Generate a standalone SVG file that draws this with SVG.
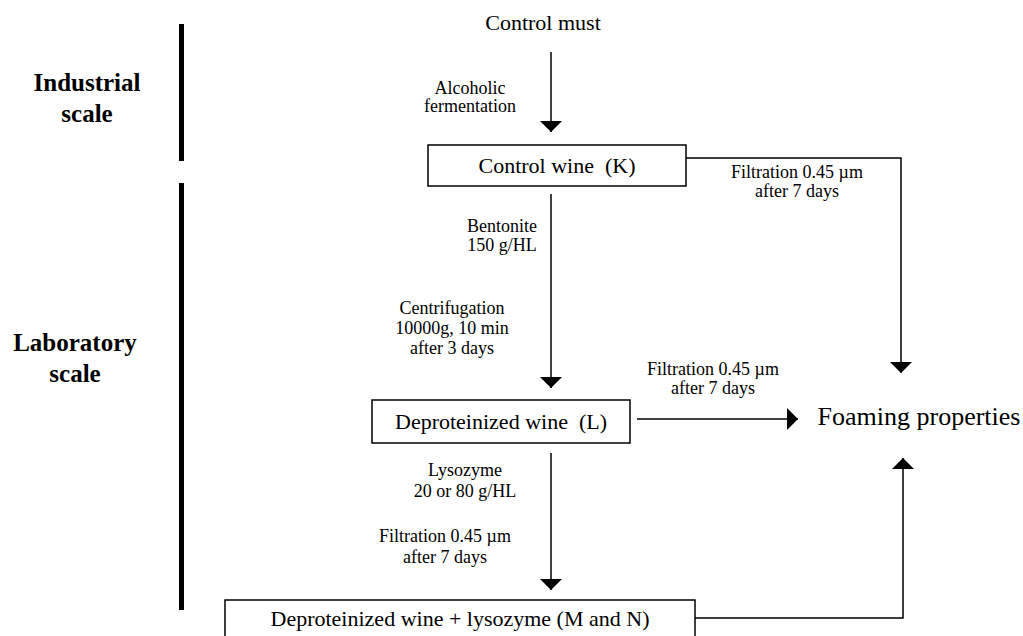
<svg xmlns="http://www.w3.org/2000/svg" width="1023" height="636" viewBox="0 0 1023 636">
<style>
.t{font-family:"Liberation Serif","Times New Roman",serif;fill:#000;text-anchor:middle}
.main{font-size:22px}
.small{font-size:18px}
.big{font-size:26px}
.bold{font-size:25px;font-weight:bold}
.box{fill:#fff;stroke:#000;stroke-width:1.5}
.ln{fill:none;stroke:#000;stroke-width:1.5}
.bar{fill:#000}
</style>
<defs>
<marker id="ah" viewBox="0 0 11 22" refX="11" refY="11" markerWidth="11" markerHeight="22" markerUnits="userSpaceOnUse" orient="auto">
<path d="M0,0 L11,11 L0,22 z" fill="#000"/>
</marker>
</defs>
<rect width="1023" height="636" fill="#fff"/>
<g id="scale-industrial">
<rect class="bar" x="179" y="24" width="5" height="137"/>
<text class="t bold" x="87" y="91">Industrial</text>
<text class="t bold" x="87" y="122">scale</text>
</g>
<g id="scale-laboratory">
<rect class="bar" x="179" y="183" width="5" height="427"/>
<text class="t bold" x="75" y="351">Laboratory</text>
<text class="t bold" x="75" y="382">scale</text>
</g>
<g id="connectors">
<line class="ln" x1="551" y1="52" x2="551" y2="132" marker-end="url(#ah)"/>
<line class="ln" x1="551" y1="194" x2="551" y2="388" marker-end="url(#ah)"/>
<line class="ln" x1="551" y1="453" x2="551" y2="590" marker-end="url(#ah)"/>
<polyline class="ln" points="686,158 901,158 901,373" marker-end="url(#ah)"/>
<line class="ln" x1="637" y1="419" x2="798" y2="419" marker-end="url(#ah)"/>
<polyline class="ln" points="695,618 903,618 903,458" marker-end="url(#ah)"/>
<text class="t small" x="470" y="94">Alcoholic</text>
<text class="t small" x="470" y="112">fermentation</text>
<text class="t small" x="797" y="178">Filtration 0.45 µm</text>
<text class="t small" x="797" y="197">after 7 days</text>
<text class="t small" x="502" y="232">Bentonite</text>
<text class="t small" x="502" y="251">150 g/HL</text>
<text class="t small" x="452" y="314">Centrifugation</text>
<text class="t small" x="452" y="334">10000g, 10 min</text>
<text class="t small" x="452" y="354">after 3 days</text>
<text class="t small" x="713" y="375">Filtration 0.45 µm</text>
<text class="t small" x="713" y="394">after 7 days</text>
<text class="t small" x="465" y="476">Lysozyme</text>
<text class="t small" x="465" y="497">20 or 80 g/HL</text>
<text class="t small" x="445" y="542">Filtration 0.45 µm</text>
<text class="t small" x="445" y="563">after 7 days</text>
</g>
<g id="node-must">
<text class="t main" x="543" y="30">Control must</text>
</g>
<g id="node-K">
<rect class="box" x="428" y="145" width="258" height="41"/>
<text class="t main" x="557" y="173" xml:space="preserve">Control wine  (K)</text>
</g>
<g id="node-L">
<rect class="box" x="372" y="400" width="258" height="43"/>
<text class="t main" x="501" y="429" xml:space="preserve">Deproteinized wine  (L)</text>
</g>
<g id="node-MN">
<rect class="box" x="225" y="600" width="470" height="45"/>
<text class="t main" x="460" y="626">Deproteinized wine + lysozyme (M and N)</text>
</g>
<g id="node-foam">
<text class="t big" x="919" y="425">Foaming properties</text>
</g>
</svg>
